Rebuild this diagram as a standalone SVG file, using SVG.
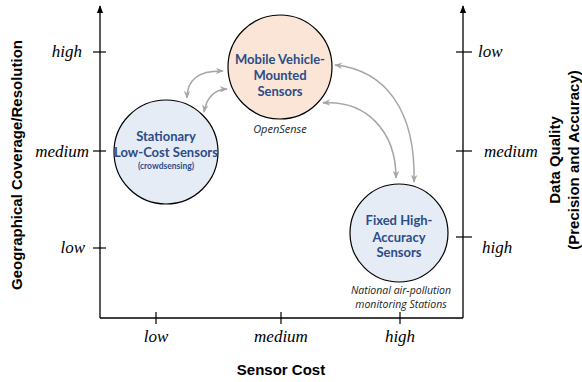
<svg xmlns="http://www.w3.org/2000/svg" width="582" height="382" viewBox="0 0 582 382">
<style>
.axis{stroke:#000;stroke-width:1.3;fill:none}
.tick{stroke:#000;stroke-width:1.2}
.lbl{font-family:"Liberation Serif",serif;font-style:italic;font-size:17px;fill:#000}
.title{font-family:"Liberation Sans",Arial,sans-serif;font-weight:bold;font-size:15px;fill:#000}
.node circle{stroke:#000;stroke-width:1.2}
.nt{font-family:Lato,"Open Sans",sans-serif;font-weight:bold;font-size:13px;fill:#2b4c88;text-anchor:middle}
.note{font-family:"Open Sans",sans-serif;font-style:italic;font-size:10.5px;fill:#222;text-anchor:middle}
.conn path{stroke:#a6a6a6;stroke-width:1.5;fill:none;marker-start:url(#ga);marker-end:url(#ga)}
</style>
<defs>
<marker id="ga" viewBox="0 0 10 10" refX="9" refY="5" markerWidth="8" markerHeight="8" markerUnits="userSpaceOnUse" orient="auto-start-reverse">
<path d="M0,1 L10,5 L0,9 L3,5 Z" fill="#a6a6a6"/>
</marker>
<marker id="ka" viewBox="0 0 10 10" refX="9" refY="5" markerWidth="8" markerHeight="8" markerUnits="userSpaceOnUse" orient="auto">
<path d="M0,1 L10,5 L0,9 Z" fill="#000"/>
</marker>
</defs>
<rect width="582" height="382" fill="#fff"/>
<g id="axes">
<path class="axis" d="M100,318 L100,6" marker-end="url(#ka)"/>
<path class="axis" d="M463,318 L463,6" marker-end="url(#ka)"/>
<path class="axis" d="M100,318 L463,318"/>
<line class="tick" x1="93" y1="52" x2="106" y2="52"/>
<line class="tick" x1="93" y1="151" x2="106" y2="151"/>
<line class="tick" x1="93" y1="248" x2="106" y2="248"/>
<line class="tick" x1="456" y1="52" x2="472" y2="52"/>
<line class="tick" x1="456" y1="151" x2="472" y2="151"/>
<line class="tick" x1="456" y1="237" x2="472" y2="237"/>
<line class="tick" x1="156" y1="312" x2="156" y2="324"/>
<line class="tick" x1="281" y1="312" x2="281" y2="324"/>
<line class="tick" x1="400" y1="312" x2="400" y2="324"/>
<text class="lbl" x="82" y="57" text-anchor="end">high</text>
<text class="lbl" x="89" y="157" text-anchor="end">medium</text>
<text class="lbl" x="85" y="253" text-anchor="end">low</text>
<text class="lbl" x="478" y="57">low</text>
<text class="lbl" x="484" y="157">medium</text>
<text class="lbl" x="482" y="253">high</text>
<text class="lbl" x="156" y="342" text-anchor="middle">low</text>
<text class="lbl" x="281" y="342" text-anchor="middle">medium</text>
<text class="lbl" x="400" y="342" text-anchor="middle">high</text>
<text class="title" x="281" y="375" text-anchor="middle">Sensor Cost</text>
<text class="title" transform="translate(22,165) rotate(-90)" text-anchor="middle">Geographical Coverage/Resolution</text>
<text class="title" transform="translate(560,160) rotate(-90)" text-anchor="middle">Data Quality</text>
<text class="title" transform="translate(579,160) rotate(-90)" text-anchor="middle">(Precision and Accuracy)</text>
</g>
<g class="conn" id="connectors">
<path d="M187,98 Q187,70 223,71"/>
<path d="M204,112 Q208,90 227,89"/>
<path d="M323,103 C365,100 396,130 396,178"/>
<path d="M335,65 C385,70 416,110 414,182"/>
</g>
<g class="node" id="mobile">
<circle cx="280" cy="67" r="52" fill="#fbe5d6"/>
<text class="nt" x="280" y="64">Mobile Vehicle-</text>
<text class="nt" x="280" y="80">Mounted</text>
<text class="nt" x="280" y="96">Sensors</text>
<text class="note" x="280" y="133" style="font-size:11px">OpenSense</text>
</g>
<g class="node" id="stationary">
<circle cx="166" cy="152" r="52" fill="#e6ecf5"/>
<text class="nt" x="166" y="141">Stationary</text>
<text class="nt" x="166" y="157">Low-Cost Sensors</text>
<text class="nt" x="166" y="169" style="font-size:8.5px">(crowdsensing)</text>
</g>
<g class="node" id="fixed">
<circle cx="399" cy="233" r="49" fill="#e6ecf5"/>
<text class="nt" x="399" y="225">Fixed High-</text>
<text class="nt" x="399" y="242">Accuracy</text>
<text class="nt" x="399" y="257">Sensors</text>
<text class="note" x="401" y="294">National air-pollution</text>
<text class="note" x="401" y="308">monitoring  Stations</text>
</g>
</svg>
